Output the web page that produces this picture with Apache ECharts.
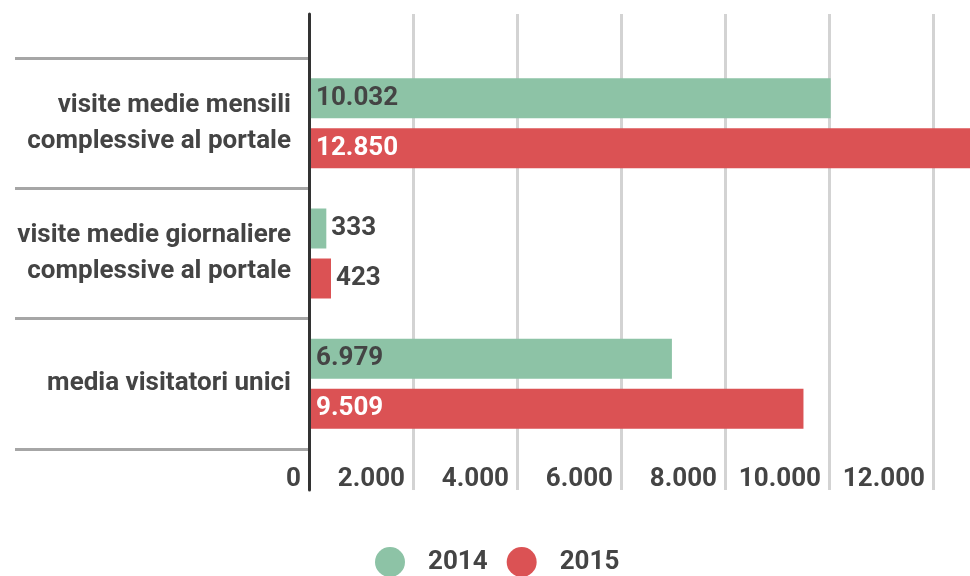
<!DOCTYPE html>
<html>
<head>
<meta charset="utf-8">
<script src="https://cdn.jsdelivr.net/npm/echarts@6/dist/echarts.min.js"></script>
<style>
html,body{margin:0;padding:0;background:#fff;}
#c{width:970px;height:576px;}
</style>
</head>
<body>
<div id="c"></div>
<script>
var categories = ['visite medie mensili\ncomplessive al portale', 'visite medie giornaliere\ncomplessive al portale', 'media visitatori unici'];
var seriesNames = ['2014', '2015'];
var values2014 = [10032, 333, 6979];
var values2015 = [12850, 423, 9509];
var axisMin = 0, axisMax = 14000, axisStep = 2000;

var GREEN = '#8dc3a6', RED = '#db5254', TEXT = '#444';
var FONT = 'Roboto';
var WEIGHT = 'bold';
var FS = 26;

function fmt(v) { return String(v).replace(/\B(?=(\d{3})+(?!\d))/g, '.'); }

function mkData(arr, insideColor) {
  return arr.map(function (v) {
    var small = v < 2000;
    return {
      value: v,
      label: {
        position: small ? 'right' : 'insideLeft',
        distance: small ? 5 : 7,
        color: small ? TEXT : insideColor
      }
    };
  });
}

var chart = echarts.init(document.getElementById('c'), null, {renderer: 'canvas'});
var labelBase = {show: true, fontFamily: FONT, fontSize: FS, fontWeight: WEIGHT, formatter: function (p) { return fmt(p.value); }};

chart.setOption({
  animation: false,
  textStyle: {fontFamily: FONT},
  grid: [
    {left: 309, width: 728, top: 14, height: 476, containLabel: false, outerBoundsMode: 'none'},
    {left: 309, width: 728, top: 58, height: 391, containLabel: false, outerBoundsMode: 'none'}
  ],
  xAxis: [
    {gridIndex: 0, type: 'value', min: axisMin, max: axisMax, interval: axisStep,
     axisLine: {show: false}, axisTick: {show: false}, axisLabel: {show: false},
     splitLine: {show: true, lineStyle: {color: '#d3d3d3', width: 3}}},
    {gridIndex: 1, type: 'value', min: axisMin, max: axisMax, interval: axisStep,
     axisLine: {show: false}, axisTick: {show: false}, splitLine: {show: false},
     axisLabel: {show: true, showMaxLabel: false, align: 'right', padding: [0, 8, 0, 0], margin: 17,
       fontFamily: FONT, fontSize: FS, fontWeight: WEIGHT, color: TEXT,
       formatter: function (v) { return fmt(v); }}}
  ],
  yAxis: [
    {gridIndex: 0, type: 'value', min: 0, max: 1, z: 5,
     axisLine: {show: true, lineStyle: {color: '#333', width: 3}},
     axisTick: {show: false}, axisLabel: {show: false}, splitLine: {show: false}},
    {gridIndex: 1, type: 'category', data: categories, inverse: true,
     axisLine: {show: false},
     axisTick: {show: true, length: 294, lineStyle: {color: '#a6a6a6', width: 3}},
     axisLabel: {show: true, margin: 18, align: 'right', fontFamily: FONT, fontSize: FS,
       fontWeight: WEIGHT, color: TEXT, lineHeight: 36},
     splitLine: {show: false}}
  ],
  legend: {
    left: 375, top: 547, padding: 0, icon: 'circle', itemWidth: 30, itemHeight: 30, itemGap: 19,
    textStyle: {fontFamily: FONT, fontSize: FS, fontWeight: WEIGHT, color: TEXT, padding: [0, 0, 0, 18]},
    data: seriesNames
  },
  series: [
    {name: seriesNames[0], type: 'bar', xAxisIndex: 1, yAxisIndex: 1, barWidth: 40, barGap: '25%',
     itemStyle: {color: GREEN}, label: labelBase, data: mkData(values2014, TEXT)},
    {name: seriesNames[1], type: 'bar', xAxisIndex: 1, yAxisIndex: 1, barWidth: 40, barGap: '25%',
     itemStyle: {color: RED}, label: labelBase, data: mkData(values2015, '#fff')}
  ]
});
</script>
</body>
</html>
